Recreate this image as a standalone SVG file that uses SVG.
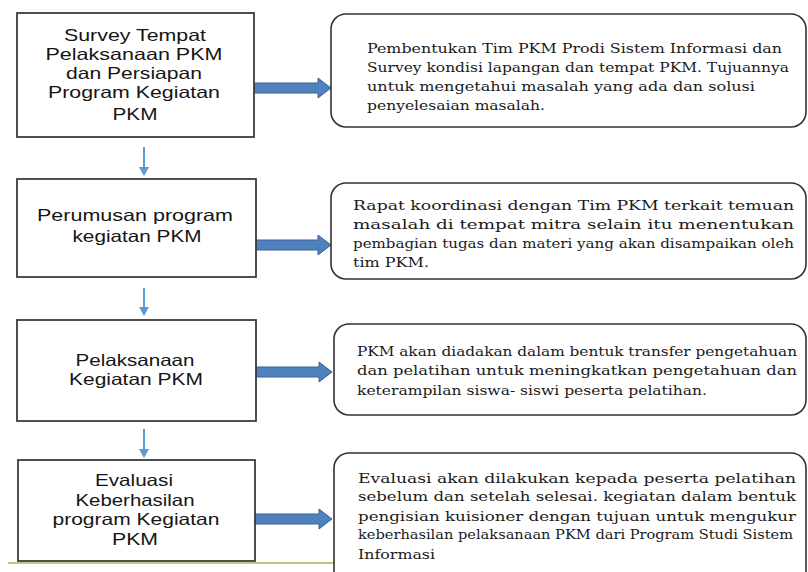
<svg xmlns="http://www.w3.org/2000/svg" width="808" height="572" viewBox="0 0 808 572">
<style>
.box{fill:#fff;stroke:#3c3c3c;stroke-width:1.8}
.rbox{fill:#fff;stroke:#333;stroke-width:1.6}
.sans{font-family:"Liberation Sans",Arial,sans-serif;font-size:16.5px;fill:#151515;text-anchor:middle}
.serif{font-family:"DejaVu Serif","Liberation Serif",serif;font-size:13.5px;fill:#1a1a1a}
.blk{fill:#4f81bd;stroke:#3a6397;stroke-width:1}
.thin{stroke:#5b9bd5;stroke-width:2;fill:none}
.head{fill:#5b9bd5}
</style>
<rect width="808" height="572" fill="#fff"/>
<line x1="8" y1="563" x2="334" y2="563" stroke="#9bbb59" stroke-width="1.5"/>
<g id="connectors">
  <path class="blk" d="M254,83 H318 V78 L331,88 L318,98 V93 H254 Z"/>
  <path class="blk" d="M256,240 H318 V235 L331,245 L318,255 V250 H256 Z"/>
  <path class="blk" d="M256,367 H319 V362 L332,372 L319,382 V377 H256 Z"/>
  <path class="blk" d="M255,514 H319 V509 L332,519 L319,529 V524 H255 Z"/>
  <line class="thin" x1="144" y1="147" x2="144" y2="168"/>
  <path class="head" d="M139,167 H149 L144,176 Z"/>
  <line class="thin" x1="144" y1="288" x2="144" y2="308"/>
  <path class="head" d="M139,307 H149 L144,316 Z"/>
  <line class="thin" x1="144" y1="429" x2="144" y2="450"/>
  <path class="head" d="M139,449 H149 L144,458 Z"/>
</g>
<g id="node-survey">
  <rect class="box" x="17" y="13" width="237" height="124"/>
  <text class="sans" x="135" y="41" textLength="142" lengthAdjust="spacingAndGlyphs">Survey Tempat</text>
  <text class="sans" x="134" y="60" textLength="177" lengthAdjust="spacingAndGlyphs">Pelaksanaan  PKM</text>
  <text class="sans" x="134" y="79" textLength="136" lengthAdjust="spacingAndGlyphs">dan Persiapan</text>
  <text class="sans" x="134" y="98" textLength="172" lengthAdjust="spacingAndGlyphs">Program Kegiatan</text>
  <text class="sans" x="135" y="120" textLength="45" lengthAdjust="spacingAndGlyphs">PKM</text>
</g>
<g id="node-perumusan">
  <rect class="box" x="17" y="179" width="239" height="98"/>
  <text class="sans" x="135" y="221" textLength="196" lengthAdjust="spacingAndGlyphs">Perumusan  program</text>
  <text class="sans" x="137" y="242" textLength="129" lengthAdjust="spacingAndGlyphs">kegiatan PKM</text>
</g>
<g id="node-pelaksanaan">
  <rect class="box" x="17" y="320" width="239" height="101"/>
  <text class="sans" x="135" y="366" textLength="119" lengthAdjust="spacingAndGlyphs">Pelaksanaan</text>
  <text class="sans" x="136" y="385" textLength="134" lengthAdjust="spacingAndGlyphs">Kegiatan PKM</text>
</g>
<g id="node-evaluasi">
  <rect class="box" x="18" y="460" width="237" height="101"/>
  <text class="sans" x="134" y="486" textLength="78" lengthAdjust="spacingAndGlyphs">Evaluasi</text>
  <text class="sans" x="135" y="506" textLength="119" lengthAdjust="spacingAndGlyphs">Keberhasilan</text>
  <text class="sans" x="136" y="525" textLength="167" lengthAdjust="spacingAndGlyphs">program Kegiatan</text>
  <text class="sans" x="135" y="545" textLength="46" lengthAdjust="spacingAndGlyphs">PKM</text>
</g>
<g id="desc-survey">
  <rect class="rbox" x="331" y="14" width="475" height="113" rx="15"/>
  <text class="serif" x="367" y="53" textLength="415" lengthAdjust="spacingAndGlyphs">Pembentukan Tim PKM Prodi Sistem Informasi dan</text>
  <text class="serif" x="367" y="72" textLength="422" lengthAdjust="spacingAndGlyphs">Survey kondisi lapangan dan tempat PKM. Tujuannya</text>
  <text class="serif" x="367" y="91" textLength="388" lengthAdjust="spacingAndGlyphs">untuk mengetahui  masalah yang ada dan solusi</text>
  <text class="serif" x="367" y="110" textLength="178" lengthAdjust="spacingAndGlyphs">penyelesaian masalah.</text>
</g>
<g id="desc-perumusan">
  <rect class="rbox" x="331" y="183" width="475" height="96" rx="15"/>
  <text class="serif" x="353" y="210" textLength="441" lengthAdjust="spacingAndGlyphs">Rapat koordinasi dengan Tim  PKM terkait temuan</text>
  <text class="serif" x="353" y="229" textLength="441" lengthAdjust="spacingAndGlyphs">masalah  di  tempat mitra selain itu menentukan</text>
  <text class="serif" x="353" y="248" textLength="441" lengthAdjust="spacingAndGlyphs">pembagian tugas dan materi yang akan disampaikan oleh</text>
  <text class="serif" x="353" y="267" textLength="76" lengthAdjust="spacingAndGlyphs">tim PKM.</text>
</g>
<g id="desc-pelaksanaan">
  <rect class="rbox" x="334" y="324" width="472" height="91" rx="15"/>
  <text class="serif" x="357" y="356" textLength="440" lengthAdjust="spacingAndGlyphs">PKM akan diadakan dalam bentuk transfer pengetahuan</text>
  <text class="serif" x="357" y="375" textLength="440" lengthAdjust="spacingAndGlyphs">dan pelatihan untuk meningkatkan pengetahuan dan</text>
  <text class="serif" x="357" y="395" textLength="350" lengthAdjust="spacingAndGlyphs">keterampilan siswa- siswi peserta pelatihan.</text>
</g>
<g id="desc-evaluasi">
  <rect class="rbox" x="334" y="453" width="472" height="140" rx="15"/>
  <text class="serif" x="358" y="483" textLength="438" lengthAdjust="spacingAndGlyphs">Evaluasi akan dilakukan kepada peserta pelatihan</text>
  <text class="serif" x="358" y="501" textLength="438" lengthAdjust="spacingAndGlyphs">sebelum dan setelah selesai. kegiatan dalam bentuk</text>
  <text class="serif" x="358" y="521" textLength="438" lengthAdjust="spacingAndGlyphs">pengisian kuisioner dengan tujuan untuk mengukur</text>
  <text class="serif" x="358" y="539" textLength="435" lengthAdjust="spacingAndGlyphs">keberhasilan pelaksanaan PKM dari Program Studi Sistem</text>
  <text class="serif" x="358" y="559" textLength="77" lengthAdjust="spacingAndGlyphs">Informasi</text>
</g>
</svg>
